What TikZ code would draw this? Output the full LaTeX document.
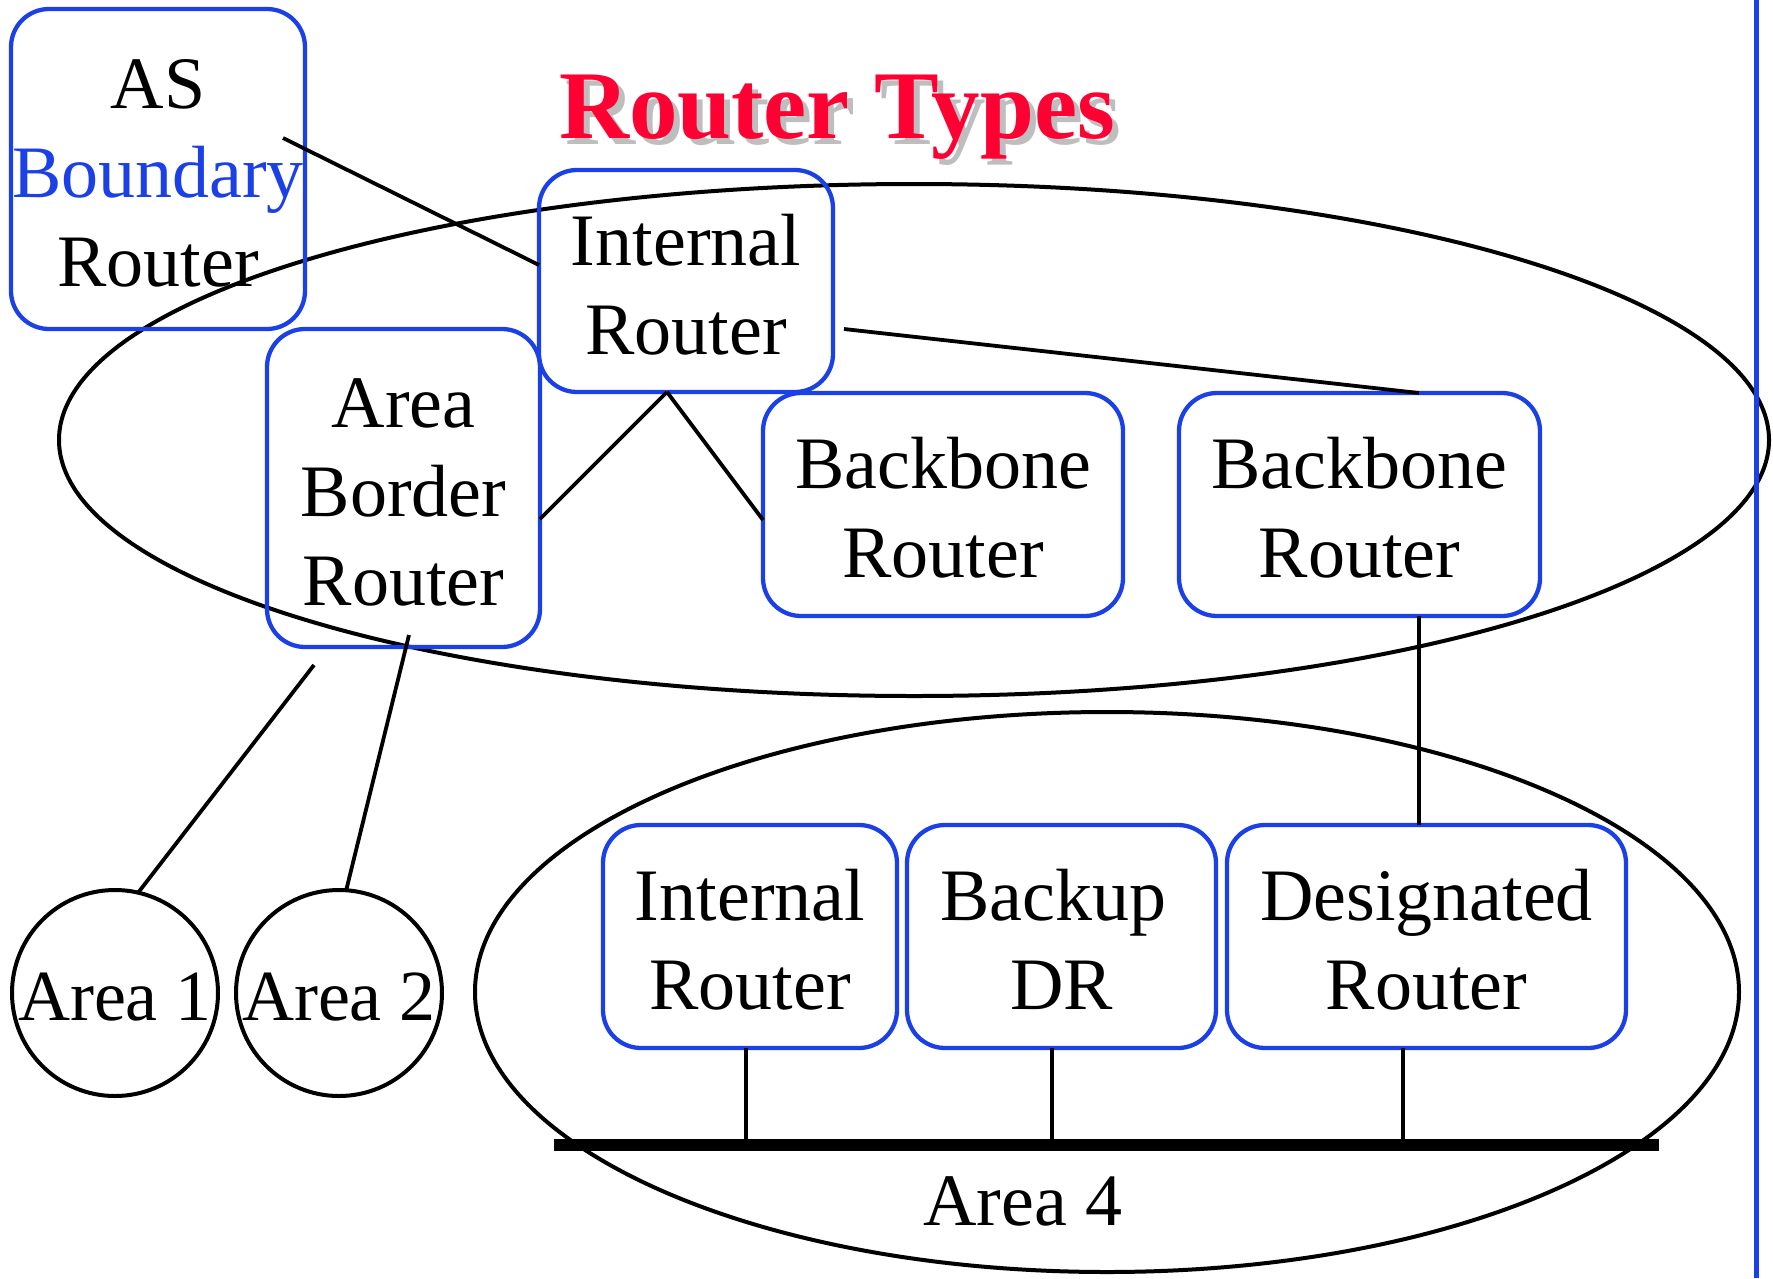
\documentclass[tikz,border=0pt]{standalone}
\usepackage{fontspec}
\setmainfont{Liberation Serif}
\definecolor{boxblue}{RGB}{26,64,230}
\definecolor{titlered}{RGB}{255,0,51}
\definecolor{shadowgray}{RGB}{190,190,190}
\newcommand{\mynudge}{\rule{0pt}{58pt}}
\newcommand{\mylow}[1]{\raisebox{-4pt}[\height][\depth]{#1}}
\begin{document}
\begin{tikzpicture}[x=1pt,y=-1pt,
  rbox/.style={draw=boxblue, line width=4.3pt, rounded corners=38pt, align=center,
    inner sep=0pt, outer sep=0pt, font=\fontsize{74pt}{89pt}\selectfont},
  areacirc/.style={draw=black, line width=4pt, circle, minimum size=206pt, inner sep=0pt,
    outer sep=0pt, font=\fontsize{72pt}{86pt}\selectfont},
  conn/.style={line width=3.8pt, black},
  areaell/.style={line width=4pt, black},
  titletext/.style={anchor=base, font=\fontsize{97pt}{110pt}\selectfont\bfseries}]
\useasboundingbox (0,0) rectangle (1773,1278);
% areas
\draw[areaell] (914,440) ellipse [x radius=855pt, y radius=256pt];
\draw[areaell] (1107,992) ellipse [x radius=632pt, y radius=280pt];
% right blue rule
\draw[boxblue, line width=5pt] (1756,0) -- (1756,1278);
% title
\node[titletext, text=shadowgray] (titleshadow) at (843,144) {Router Types};
\node[titletext, text=titlered] (title) at (837,138) {Router Types};
% router boxes
\node[rbox, minimum width=294pt, minimum height=320pt] (AS) at (158,169) {\mynudge AS\\\textcolor{boxblue}{Boundary}\\Router};
\node[rbox, minimum width=294pt, minimum height=222pt] (IR1) at (686,281) {\mynudge Internal\\Router};
\node[rbox, minimum width=273pt, minimum height=318pt] (ABR) at (403.5,488) {\mynudge Area\\Border\\Router};
\node[rbox, minimum width=360pt, minimum height=223pt] (BB1) at (943,504.5) {\mynudge Backbone\\Router};
\node[rbox, minimum width=361pt, minimum height=223pt] (BB2) at (1359.5,504.5) {\mynudge Backbone\\Router};
\node[rbox, minimum width=294pt, minimum height=223pt] (IR2) at (750,936.5) {\mynudge Internal\\Router};
\node[rbox, minimum width=309pt, minimum height=223pt] (BDR) at (1061.5,936.5) {\mynudge Backup\hspace*{16pt}\\DR};
\node[rbox, minimum width=399pt, minimum height=223pt] (DR) at (1426.5,936.5) {\mynudge Designated\\Router};
% area circles
\node[areacirc] (A1) at (115,993) {\makebox[0pt]{\mylow{Area 1}}};
\node[areacirc] (A2) at (339,993) {\makebox[0pt]{\mylow{Area 2}}};
\node[font=\fontsize{74pt}{89pt}\selectfont] (A4) at (1023,1201) {Area 4};
% connectors
\coordinate (asout) at (283,138);
\draw[conn] (asout) -- ([yshift=16pt]IR1.west);
\coordinate (irb) at ([xshift=-19pt]IR1.south);
\draw[conn] (irb) -- ([yshift=-31pt]ABR.east);
\draw[conn] (irb) -- ([yshift=-15.5pt]BB1.west);
\coordinate (irr) at ([xshift=11pt,yshift=-48pt]IR1.east);
\draw[conn] (irr) -- ([xshift=59.5pt]BB2.north);
\coordinate (bbd) at ([xshift=59.5pt]BB2.south);
\draw[conn] (bbd) -- (bbd |- DR.north);
\coordinate (a1s) at (314,665);
\draw[conn] (a1s) -- (A1.77);
\coordinate (abrb) at ([xshift=5.5pt,yshift=12pt]ABR.south);
\draw[conn] (abrb) -- (A2.86);
% bus
\coordinate (busL) at (554,1145);
\coordinate (busR) at (1659,1145);
\draw[line width=12pt] (busL) -- (busR);
\coordinate (d1) at ([xshift=-4pt]IR2.south);
\coordinate (d2) at ([xshift=-9.5pt]BDR.south);
\coordinate (d3) at ([xshift=-23.5pt]DR.south);
\draw[conn] (d1) -- (d1 |- busL);
\draw[conn] (d2) -- (d2 |- busL);
\draw[conn] (d3) -- (d3 |- busL);
\end{tikzpicture}
\end{document}
